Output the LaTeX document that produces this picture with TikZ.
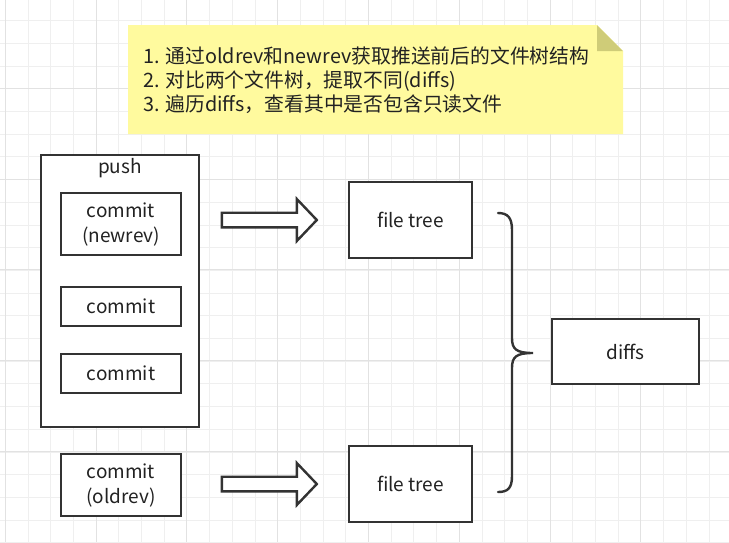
\documentclass[tikz,border=0pt]{standalone}
\usepackage{fontspec}
\setmainfont{Noto Sans CJK SC}
\usetikzlibrary{positioning}
\definecolor{linegray}{HTML}{333333}
\definecolor{textgray}{HTML}{222222}
\definecolor{gridminor}{HTML}{EFEFEF}
\definecolor{gridmajor}{HTML}{E2E2E2}
\definecolor{notefill}{HTML}{FFFA9E}
\definecolor{notefold}{HTML}{CFCC78}
\tikzset{
    box/.style={draw=linegray, line width=2.4pt, fill=white, align=center,
        text=textgray, font=\fontsize{19}{25}\selectfont, inner sep=0pt},
    fatarrow/.style={draw=linegray, line width=2.4pt, fill=white, line join=miter},
}
\begin{document}
\begin{tikzpicture}[x=1pt, y=-1pt]
    \useasboundingbox (0,0) rectangle (729,542);
    \fill[white] (0,0) rectangle (729,542);
    % grid
    \foreach \i in {0,...,31}
        \draw[gridminor, line width=1pt] (5.3+22.7*\i,0) -- (5.3+22.7*\i,542);
    \foreach \i in {0,...,24}
        \draw[gridminor, line width=1pt] (0,-2+22.7*\i) -- (729,-2+22.7*\i);
    \foreach \i in {0,...,7}
        \draw[gridmajor, line width=1pt] (5.3+90.8*\i,0) -- (5.3+90.8*\i,542);
    \foreach \i in {0,...,5}
        \draw[gridmajor, line width=1pt] (0,88.3+90.8*\i-90.8) -- (729,88.3+90.8*\i-90.8);

    % note
    \fill[notefill] (128,25) -- (597,25) -- (623,51) -- (623,134) -- (128,134) -- cycle;
    \fill[notefold] (597,25) -- (623,51) -- (597,51) -- cycle;
    \node[anchor=west, align=left, inner sep=0pt, text=textgray,
        font=\fontsize{19.8}{24}\selectfont] (steps) at (143,80)
        {1. 通过oldrev和newrev获取推送前后的文件树结构\\
         2. 对比两个文件树，提取不同(diffs)\\
         3. 遍历diffs，查看其中是否包含只读文件};

    % push with its commits
    \node[box, minimum width=158pt, minimum height=272pt] (push) at (120,291) {};
    \node[text=textgray, font=\fontsize{19}{25}\selectfont, inner sep=0pt] (pushlbl) at (120,168) {push};
    \node[box, minimum width=120pt, minimum height=62pt] (newrev) at (121,224) {commit\\(newrev)};
    \node[box, minimum width=120pt, minimum height=39pt] (mid) at (121,306.5) {commit};
    \node[box, minimum width=120pt, minimum height=39pt] (low) at (121,373.5) {commit};
    \node[box, minimum width=120pt, minimum height=62pt] (oldrev) at (121,485) {commit\\(oldrev)};

    % file trees and diffs
    \node[box, minimum width=123pt, minimum height=76pt] (newtree) at (410.5,220) {file tree};
    \node[box, minimum width=123pt, minimum height=76pt] (oldtree) at (410.5,484) {file tree};
    \node[box, minimum width=147pt, minimum height=65pt] (diffs) at (625.5,351.5) {diffs};

    % block arrows
    \foreach \t in {newtree,oldtree}
        \draw[fatarrow] ([xshift=-31pt]\t.west) -- ++(-20,-21) -- ++(0,13.7) -- ++(-75,0)
            -- ++(0,14.6) -- ++(75,0) -- ++(0,13.7) -- cycle;

    % brace
    \coordinate (bracetip) at (533,353);
    \draw[linegray, line width=2.4pt, line cap=round]
        (498,213) .. controls (508,213) and (512,218) .. (512,230) -- (512,338)
        .. controls (512,349) and (516,353) .. (bracetip)
        .. controls (516,353) and (512,357) .. (512,368) -- (512,476)
        .. controls (512,488) and (508,492) .. (498,492);
\end{tikzpicture}
\end{document}
